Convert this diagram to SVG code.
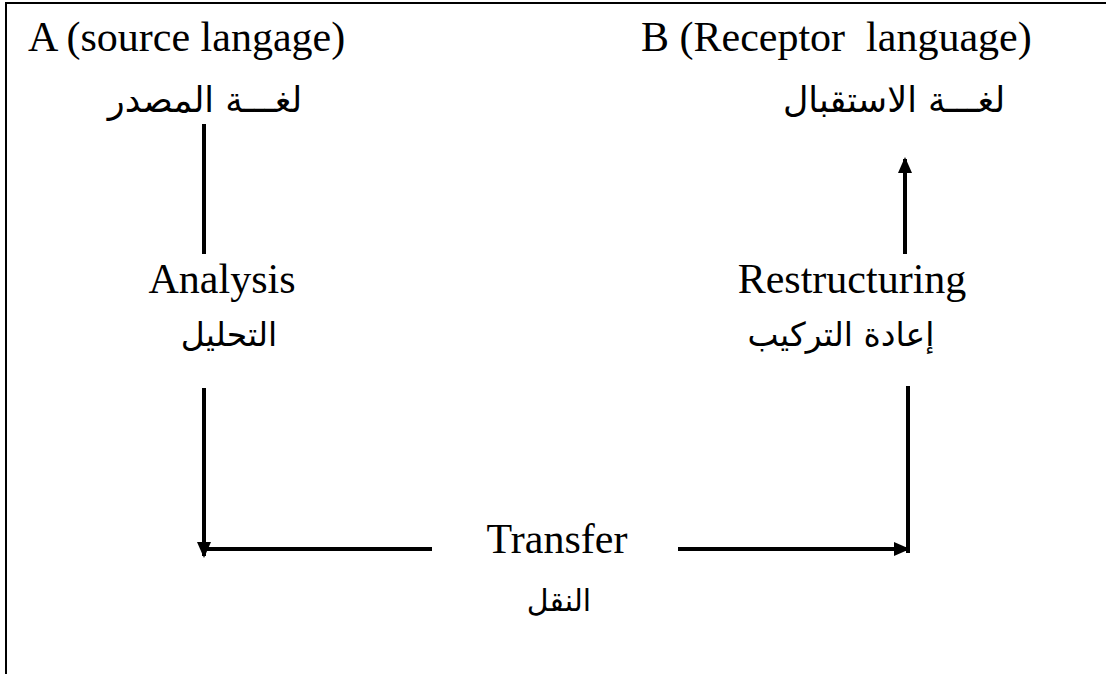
<svg xmlns="http://www.w3.org/2000/svg" width="1106" height="674" viewBox="0 0 1106 674">
<style>
.en{font-family:"Liberation Serif","Times New Roman",serif;font-size:42px;fill:#000}
.ar{font-family:"DejaVu Sans","Noto Sans",sans-serif;font-size:33px;fill:#000}
.ln{stroke:#000;stroke-width:4;fill:none}
</style>
<defs>
<marker id="ah" markerWidth="16" markerHeight="16" refX="14" refY="8" orient="auto" markerUnits="userSpaceOnUse">
<path d="M0,1 L16,8 L0,15 Z" fill="#000"/>
</marker>
</defs>
<rect width="1106" height="674" fill="#fff"/>
<path d="M6,674 V3 H1106" stroke="#000" stroke-width="2" fill="none"/>
<g id="nodeA">
<text class="en" x="28" y="51">A (source langage)</text>
<text class="ar" x="205" y="112" text-anchor="middle" direction="rtl" style="font-size:35px">لغـــة المصدر</text>
</g>
<g id="nodeB">
<text class="en" x="641" y="51" xml:space="preserve">B (Receptor  language)</text>
<text class="ar" x="894" y="112" text-anchor="middle" direction="rtl" style="font-size:35px">لغـــة الاستقبال</text>
</g>
<g id="nodeAnalysis">
<text class="en" x="222" y="293" text-anchor="middle">Analysis</text>
<text class="ar" x="229" y="346" text-anchor="middle" direction="rtl">التحليل</text>
</g>
<g id="nodeRestructuring">
<text class="en" x="852" y="293" text-anchor="middle">Restructuring</text>
<text class="ar" x="841" y="346" text-anchor="middle" direction="rtl">إعادة التركيب</text>
</g>
<g id="nodeTransfer">
<text class="en" x="557" y="553" text-anchor="middle">Transfer</text>
<text class="ar" x="559" y="611" text-anchor="middle" direction="rtl" style="font-size:30px">النقل</text>
</g>
<g id="connectors">
<line class="ln" x1="204" y1="124" x2="204" y2="254"/>
<line class="ln" x1="432" y1="549" x2="206" y2="549"/>
<line class="ln" x1="204" y1="388" x2="204" y2="556" marker-end="url(#ah)"/>
<line class="ln" x1="678" y1="549" x2="908" y2="549" marker-end="url(#ah)"/>
<line class="ln" x1="908" y1="386" x2="908" y2="553"/>
<line class="ln" x1="905" y1="254" x2="905" y2="159" marker-end="url(#ah)"/>
</g>
</svg>
